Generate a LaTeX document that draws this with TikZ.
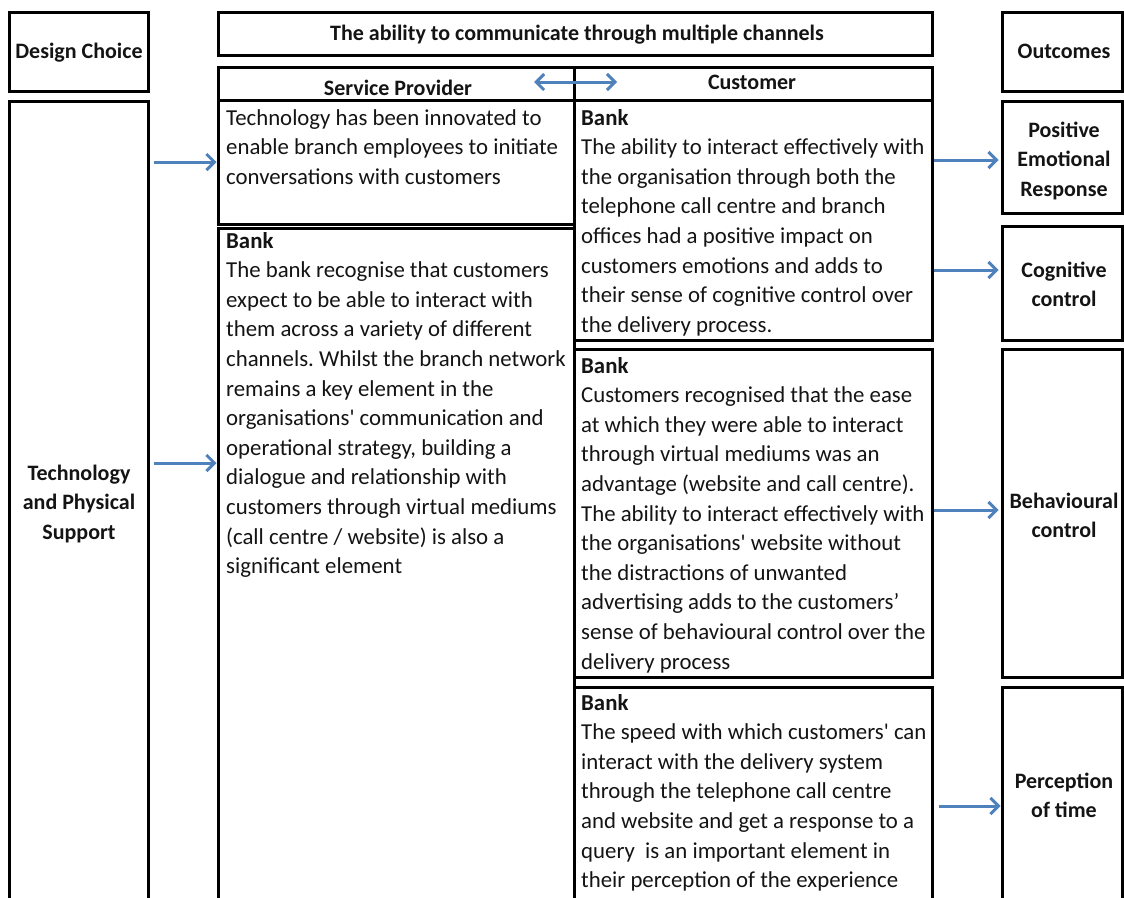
\documentclass[tikz,border=0pt]{standalone}
\usepackage{fontspec}
\setmainfont{Carlito}
\usetikzlibrary{arrows.meta}
\definecolor{flowblue}{HTML}{4F81BD}
\definecolor{ink}{HTML}{141414}
\frenchspacing

% rectangle node spanning two corner points (centre-of-line coordinates)
\newcommand\panel[5]{%
  \node[panelbox, minimum width={(#4-#2)*1pt}, minimum height={(#5-#3)*1pt}]
    (#1) at ({(#2+#4)/2},{(#3+#5)/2}) {};}
% left-aligned block of lines, first baseline at (x,y)
\newcommand\lines[4]{%
  \foreach \ln [count=\i] in {#4}
    \node[bodytxt] (#1-\i) at (#2,{#3+(\i-1)*29.6}) {\ln};}
% centred block of bold lines
\newcommand\clines[4]{%
  \foreach \ln [count=\i] in {#4}
    \node[headtxt] (#1-\i) at (#2,{#3+(\i-1)*29.6}) {\ln};}

\begin{document}
\begin{tikzpicture}[x=1pt,y=-1pt,
  panelbox/.style={draw=black, line width=3pt, inner sep=0pt, fill=none},
  bodytxt/.style={anchor=base west, inner sep=0pt, text=ink,
    font=\fontsize{22.8}{26}\selectfont},
  headtxt/.style={anchor=base, inner sep=0pt, text=ink,
    font=\fontsize{22}{26}\selectfont\bfseries},
  flow/.style={draw=flowblue, line width=3pt,
    -{Straight Barb[length=8pt,width=16pt,line width=3pt]}},
  biflow/.style={draw=flowblue, line width=3pt,
    {Straight Barb[length=8pt,width=16pt,line width=3pt]}-{Straight Barb[length=8pt,width=16pt,line width=3pt]}}]
\useasboundingbox (0,0) rectangle (1124,897);
\fill[white] (0,0) rectangle (1124,897);

% design choice column
\panel{dc}{9}{12}{148}{91}
\panel{tech}{9}{101}{148}{930}
% centre: service provider and customer
\panel{title}{218}{12}{932}{55}
\panel{sph}{218}{67}{574}{100}
\panel{cuh}{574}{67}{932}{100}
\panel{sp1}{218}{100}{574}{224}
\panel{sp2}{218}{228}{574}{930}
\panel{c1}{574}{100}{932}{340}
\panel{c2}{574}{349}{932}{677}
\panel{c3}{574}{687}{932}{930}
% outcomes column
\panel{out}{1002}{12}{1122}{91}
\panel{per}{1002}{101}{1122}{213}
\panel{cog}{1002}{226}{1122}{340}
\panel{beh}{1002}{349}{1122}{677}
\panel{pot}{1002}{687}{1122}{930}

% headings
\clines{dct}{79}{58}{{Design Choice}}
\clines{techt}{79}{480}{{Technology},{and Physical},{Support}}
\clines{titlet}{577}{40}{{The ability to communicate through multiple channels}}
\clines{spht}{398}{95}{{Service Provider}}
\clines{cuht}{752}{89}{{Customer}}
\clines{outt}{1064}{58}{{Outcomes}}
\clines{pert}{1064}{137}{{Positive},{Emotional},{Response}}
\clines{cogt}{1064}{277}{{Cognitive},{control}}
\clines{beht}{1064}{508}{{Behavioural},{control}}
\clines{pott}{1064}{788}{{Perception},{of time}}

% service provider texts
\lines{sp1t}{226}{125}{{Technology has been innovated to},
  {enable branch employees to initiate},
  {conversations with customers}}
\lines{sp2t}{226}{248}{{\bfseries Bank},
  {The bank recognise that customers},
  {expect to be able to interact with},
  {them across a variety of different},
  {channels. Whilst the branch network},
  {remains a key element in the},
  {organisations\textquotesingle\ communication and},
  {operational strategy, building a},
  {dialogue and relationship with},
  {customers through virtual mediums},
  {(call centre / website) is also a},
  {significant element}}

% customer texts
\lines{c1t}{581}{125}{{\bfseries Bank},
  {The ability to interact effectively with},
  {the organisation through both the},
  {telephone call centre and branch},
  {offices had a positive impact on},
  {customers emotions and adds to},
  {their sense of cognitive control over},
  {the delivery process.}}
\lines{c2t}{581}{373}{{\bfseries Bank},
  {Customers recognised that the ease},
  {at which they were able to interact},
  {through virtual mediums was an},
  {advantage (website and call centre).},
  {The ability to interact effectively with},
  {the organisations\textquotesingle\ website without},
  {the distractions of unwanted},
  {advertising adds to the customers’},
  {sense of behavioural control over the},
  {delivery process}}
\lines{c3t}{581}{710}{{\bfseries Bank},
  {The speed with which customers\textquotesingle\ can},
  {interact with the delivery system},
  {through the telephone call centre},
  {and website and get a response to a},
  {query~ is an important element in},
  {their perception of the experience}}

% arrow heights
\coordinate (ya) at (0,162);
\coordinate (yb) at (0,463);
\coordinate (yc) at (0,160);
\coordinate (yd) at (0,270);
\coordinate (ye) at (0,510);
\coordinate (yf) at (0,806);
\coordinate (mid) at (575,82);

% connectors
\draw[flow] ([xshift=4pt]tech.east |- ya) -- (sp1.west |- ya);
\draw[flow] ([xshift=4pt]tech.east |- yb) -- (sp2.west |- yb);
\draw[flow] (c1.east |- yc) -- ([xshift=-2pt]per.west |- yc);
\draw[flow] (c1.east |- yd) -- ([xshift=-2pt]cog.west |- yd);
\draw[flow] (c2.east |- ye) -- ([xshift=-2pt]beh.west |- ye);
\draw[flow] ([xshift=5pt]c3.east |- yf) -- (pot.west |- yf);
\draw[biflow] ([xshift=-41pt]mid) -- ([xshift=42pt]mid);
\end{tikzpicture}
\end{document}
